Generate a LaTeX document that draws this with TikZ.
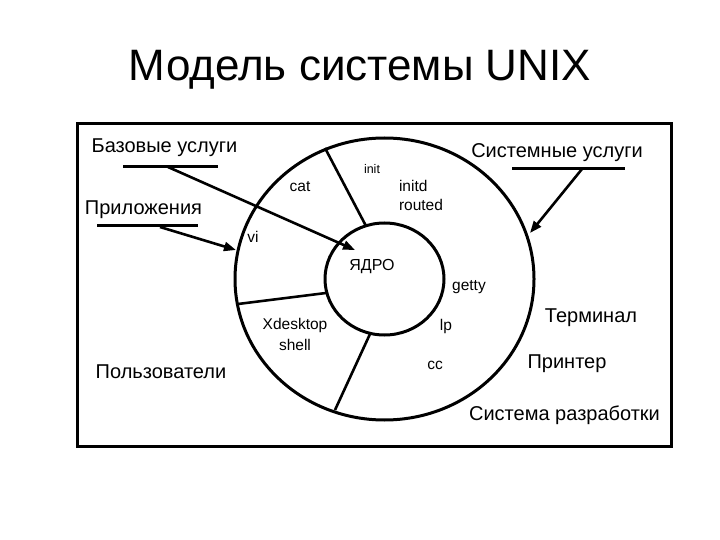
\documentclass[tikz,border=0pt]{standalone}
\usepackage{fontspec}
\setmainfont{Liberation Sans}
\usetikzlibrary{arrows.meta}
\begin{document}
\begin{tikzpicture}[x=1pt,y=-1pt,
  bold/.style={line width=3pt},
  radial/.style={line width=2.6pt},
  arr/.style={line width=2.6pt,-{Triangle[length=12pt,width=9pt]}},
  big/.style={font=\fontsize{20}{22}\selectfont,inner sep=0pt},
  small/.style={font=\fontsize{15.5}{20}\selectfont,inner sep=0pt},
  tiny/.style={font=\fontsize{12.5}{15}\selectfont,inner sep=0pt}]
\useasboundingbox (0,0) rectangle (720,540);
% title
\node[font=\fontsize{44}{50}\selectfont,inner sep=0pt] (title) at (360,70) {Модель системы UNIX};
% frame
\draw[bold] (77,124) rectangle (671,446);
% rings
\coordinate (c) at (384.5,279);
\draw[bold] (c) ellipse [x radius=149.5pt, y radius=141pt];
\draw[bold] (c) ellipse [x radius=59.5pt, y radius=56pt];
% radial separators
\coordinate (o1) at (325,148); \coordinate (i1) at (366,226);
\coordinate (o2) at (238,304); \coordinate (i2) at (326,293);
\coordinate (o3) at (335,410); \coordinate (i3) at (370,334);
\draw[radial] (o1) -- (i1);
\draw[radial] (o2) -- (i2);
\draw[radial] (o3) -- (i3);
% labels
\node[big] (bazov) at (164.5,148) {Базовые услуги};
\node[big] (sistem) at (557,153) {Системные услуги};
\node[big] (prilo) at (143.5,210) {Приложения};
\node[big] (polz) at (161,372) {Пользователи};
\node[big] (term) at (591,318) {Терминал};
\node[big] (print) at (567,364) {Принтер};
\node[big] (razr) at (564.5,415) {Система разработки};
% underlines
\coordinate (u1a) at (123,167); \coordinate (u1b) at (218,167);
\coordinate (u2a) at (97,226);  \coordinate (u2b) at (198,226);
\coordinate (u3a) at (512,169); \coordinate (u3b) at (625,169);
\draw[bold] (u1a) -- (u1b);
\draw[bold] (u2a) -- (u2b);
\draw[bold] (u3a) -- (u3b);
% arrows
\coordinate (s1) at (168,167); \coordinate (e1) at (355,250);
\coordinate (s2) at (160,227); \coordinate (e2) at (236,250);
\coordinate (s3) at (582,169); \coordinate (e3) at (530,233);
\draw[arr] (s1) -- (e1);
\draw[arr] (s2) -- (e2);
\draw[arr] (s3) -- (e3);
% inner texts
\node[tiny] (init) at (372,169) {init};
\node[small,align=left,font=\fontsize{15.5}{19}\selectfont] (initd) at (421,195.5) {initd\\routed};
\node[small] (cat) at (300,187) {cat};
\node[small] (vi) at (253,237) {vi};
\node[small,font=\fontsize{16}{20}\selectfont] (yadro) at (372,267) {ЯДРО};
\node[small] (getty) at (469,287) {getty};
\node[small] (lp) at (446,326) {lp};
\node[small] (cc) at (435,365) {cc};
\node[small,align=center,font=\fontsize{15.5}{21}\selectfont] (xdesk) at (295,334.5) {Xdesktop\\shell};
\end{tikzpicture}
\end{document}
